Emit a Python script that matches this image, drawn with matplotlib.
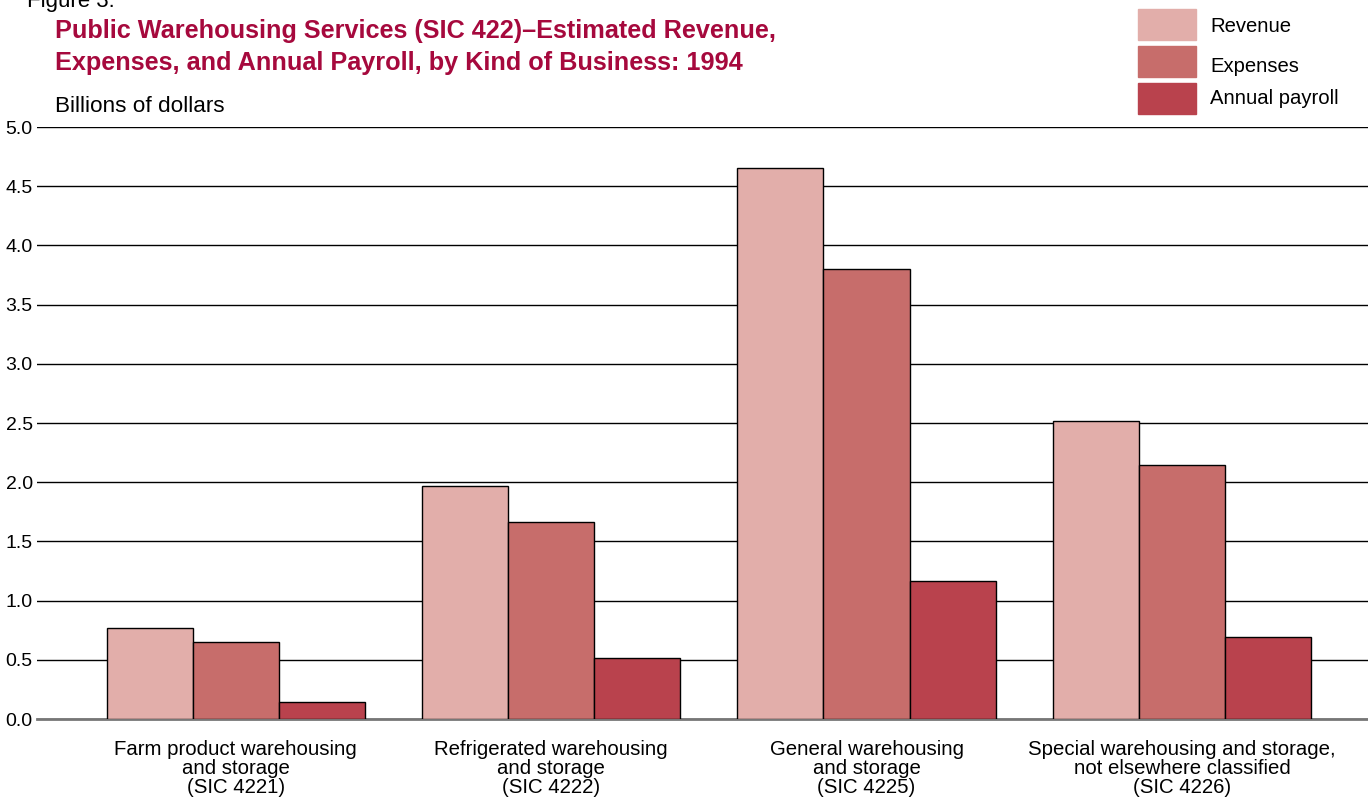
import numpy as np
import matplotlib.pyplot as plt
from matplotlib.patches import Rectangle

plt.rcParams['font.family'] = ['Liberation Sans', 'DejaVu Sans']

categories = ['Farm product warehousing\nand storage\n(SIC 4221)',
              'Refrigerated warehousing\nand storage\n(SIC 4222)',
              'General warehousing\nand storage\n(SIC 4225)',
              'Special warehousing and storage,\nnot elsewhere classified\n(SIC 4226)']
series = ['Revenue', 'Expenses', 'Annual payroll']
revenue = [0.77, 1.97, 4.65, 2.52]
expenses = [0.65, 1.66, 3.80, 2.145]
payroll = [0.145, 0.515, 1.165, 0.69]
colors = ['#e2aeaa', '#c76d6b', '#b9424d']

fig = plt.figure(figsize=(13.68, 7.99), dpi=100)
ax = fig.add_axes([37/1368, 80/799, 1331/1368, 592/799])

x = np.arange(len(categories))
w = 0.273
for i, vals in enumerate([revenue, expenses, payroll]):
    ax.bar(x + (i - 1) * w, vals, w, color=colors[i], edgecolor='black',
           linewidth=1, zorder=3)

ax.set_xlim(-0.63, 3.59)
ax.set_ylim(0, 5)
ax.set_yticks(np.arange(0, 5.01, 0.5))
ax.set_yticklabels(['%.1f' % v for v in np.arange(0, 5.01, 0.5)], fontsize=14)
ax.yaxis.grid(True, color='black', linewidth=1, zorder=0)
ax.tick_params(axis='y', length=0, pad=3)
ax.set_xticks(x)
ax.set_xticklabels(categories, fontsize=14.7, linespacing=1.0)
ax.tick_params(axis='x', length=0, pad=15)
for s in ['left', 'right', 'top']:
    ax.spines[s].set_visible(False)
ax.spines['bottom'].set_color('#777777')
ax.spines['bottom'].set_linewidth(2)

fig.text(27/1368, 1 - 2/799, 'Figure 3.', fontsize=16, va='center')
fig.text(55/1368, 1 - 31/799, 'Public Warehousing Services (SIC 422)\u2013Estimated Revenue,',
         fontsize=18.2, fontweight='bold', color='#a6093d', va='center')
fig.text(55/1368, 1 - 63/799, 'Expenses, and Annual Payroll, by Kind of Business: 1994',
         fontsize=18.2, fontweight='bold', color='#a6093d', va='center')
fig.text(55/1368, 1 - 106/799, 'Billions of dollars', fontsize=16.2, va='center')

# legend
tops = [9, 46, 83]
label_y = [27, 67, 98]
for i, name in enumerate(series):
    fig.patches.append(Rectangle((1138/1368, 1 - (tops[i] + 31)/799), 58/1368, 31/799,
                                 transform=fig.transFigure, color=colors[i]))
    fig.text(1210/1368, 1 - label_y[i]/799, name, fontsize=14.6, va='center')

plt.savefig('out.png', dpi=100)
